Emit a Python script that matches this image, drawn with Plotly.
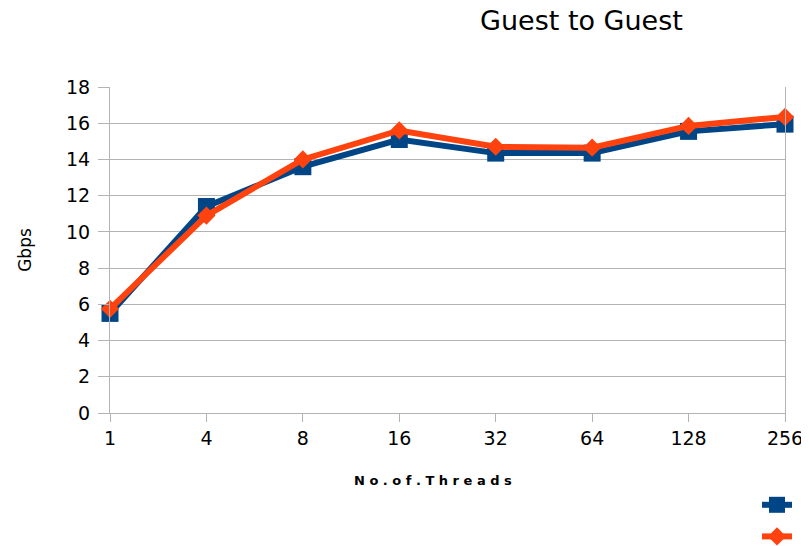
import plotly.graph_objects as go

threads = ["1", "4", "8", "16", "32", "64", "128", "256"]
series_a = [5.5, 11.4, 13.6, 15.1, 14.35, 14.35, 15.55, 15.95]
series_b = [5.75, 10.9, 14.0, 15.6, 14.7, 14.65, 15.85, 16.35]
y_ticks = [0, 2, 4, 6, 8, 10, 12, 14, 16, 18]

FONT = "DejaVu Sans, Verdana, sans-serif"
grid = "#b3b3b3"

# page body has an 8px margin, so the figure is made 8px smaller
W, H = 801, 538
PL, PR, PT, PB = 102, 24, 79, 133
PW, PH = W - PL - PR, H - PT - PB

fig = go.Figure()
fig.add_trace(go.Scatter(
    x=threads, y=series_a, mode="lines+markers", name=" ",
    line=dict(color="#004586", width=6),
    marker=dict(symbol="square", size=17, color="#004586"),
    cliponaxis=False,
))
fig.add_trace(go.Scatter(
    x=threads, y=series_b, mode="lines+markers", name=" ",
    line=dict(color="#ff420e", width=6),
    marker=dict(symbol="diamond", size=14, color="#ff420e"),
    cliponaxis=False,
))

fig.update_layout(
    width=W, height=H,
    margin=dict(l=PL, r=PR, t=PT, b=PB, autoexpand=False),
    paper_bgcolor="white", plot_bgcolor="white",
    font=dict(family=FONT, color="black"),
    showlegend=True,
    legend=dict(x=749/W, xanchor="left", y=1-476/H, yanchor="top",
                xref="container", yref="container",
                font=dict(size=22), bgcolor="rgba(0,0,0,0)",
                tracegroupgap=0, itemwidth=30),
    annotations=[
        dict(text="Guest to Guest", showarrow=False,
             xref="paper", yref="paper",
             x=(573-PL)/PW, y=1+(PT-12)/PH,
             xanchor="center", yanchor="middle",
             font=dict(size=27, family=FONT)),
        dict(text="<b>N o . o f . T h r e a d s</b>", showarrow=False,
             xref="paper", yref="paper", x=(433-110)/675, y=(405-473)/326,
             xanchor="center", yanchor="middle",
             font=dict(size=13, family=FONT)),
    ],
)
fig.update_xaxes(
    type="category", range=[0, 7],
    showgrid=False, showline=True, linecolor=grid, linewidth=1,
    ticks="outside", ticklen=8, tickcolor=grid,
    tickfont=dict(size=19, family=FONT),
    zeroline=False,
)
fig.update_yaxes(
    range=[0, 18], tickvals=y_ticks,
    showgrid=True, gridcolor=grid, gridwidth=1,
    showline=True, linecolor=grid, linewidth=1, mirror=True,
    ticks="outside", ticklen=11, tickcolor=grid, ticklabelstandoff=4,
    tickfont=dict(size=19, family=FONT),
    title=dict(text="Gbps", font=dict(size=17, family=FONT), standoff=30),
    zeroline=False,
)

fig.write_html("out.html")
